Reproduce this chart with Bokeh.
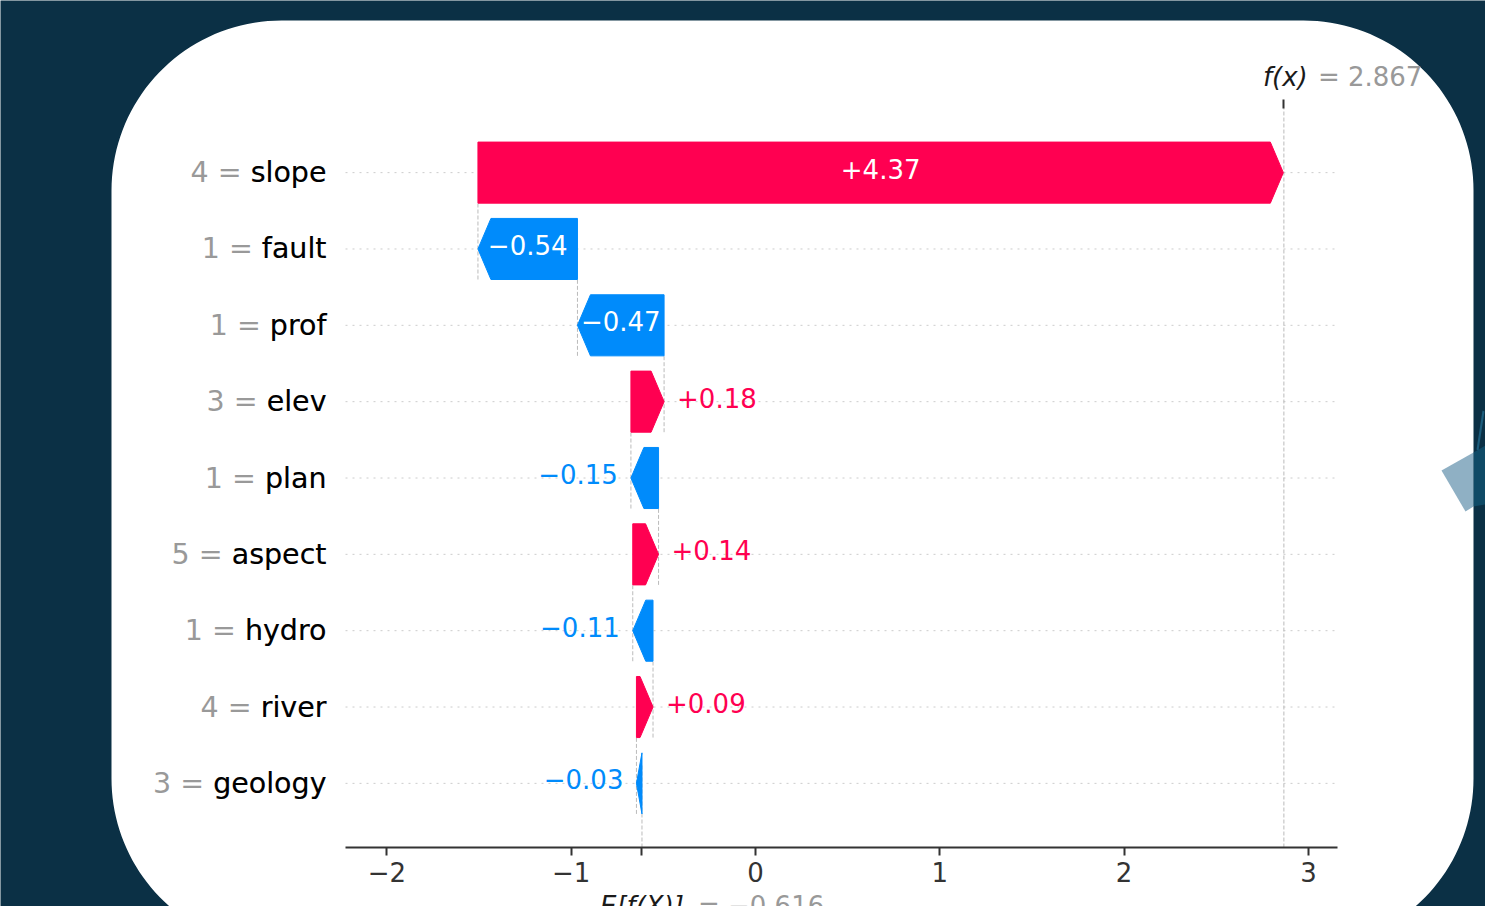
import numpy as np
from bokeh.plotting import figure
from bokeh.models import (Range1d, FixedTicker, LinearAxis, LabelSet, ColumnDataSource)
from bokeh.core.properties import value
from bokeh.embed import file_html
from bokeh.resources import INLINE

# ---- data: SHAP waterfall for one prediction (top row first) ----
features = ["slope", "fault", "prof", "elev", "plan", "aspect", "hydro", "river", "geology"]
feature_values = ["4", "1", "1", "3", "1", "5", "1", "4", "3"]
shap_values = [4.37, -0.54, -0.47, 0.18, -0.15, 0.14, -0.11, 0.09, -0.03]
value_labels = ["+4.37", "\u22120.54", "\u22120.47", "+0.18", "\u22120.15",
                "+0.14", "\u22120.11", "+0.09", "\u22120.03"]
base_value = -0.616
fx_value = 2.867
x_ticks = [-2, -1, 0, 1, 2, 3]
x_tick_labels = ["\u22122", "\u22121", "0", "1", "2", "3"]

# ---- page geometry (pixels) ----
W, H = 1485, 906
AX_L, AX_R, AX_T, AX_B = 345, 1337, 108, 847     # the waterfall's own axes box
PX_PER_X = 184.3
ZERO_PX = 755

RED = "#ff0051"
BLUE = "#008bfb"
FONT_NAME = "DejaVu Sans"
FONT = value(FONT_NAME)

n = len(features)
rows = list(range(n - 1, -1, -1))          # slope on top, geology at bottom

# axes-box limits in data units
ax_x0 = (AX_L - ZERO_PX) / PX_PER_X
ax_x1 = (AX_R - ZERO_PX) / PX_PER_X
ax_y0, ax_y1 = -0.84, n - 1 + 0.84
PX_PER_Y = (AX_B - AX_T) / (ax_y1 - ax_y0)

# the plotting frame spans the whole page; the axes are pinned to the box above
x_range = Range1d(ax_x0 - AX_L / PX_PER_X, ax_x1 + (W - AX_R) / PX_PER_X)
y_range = Range1d(ax_y0 - (H - AX_B) / PX_PER_Y, ax_y1 + AX_T / PX_PER_Y)

p = figure(width=W, height=H, x_range=x_range, y_range=y_range, title=None,
           output_backend="svg", toolbar_location=None,
           min_border=0, min_border_left=0, min_border_right=0,
           min_border_top=0, min_border_bottom=0,
           background_fill_color="white", border_fill_color="#0b3045",
           outline_line_color=None)
p.xgrid.visible = False
p.ygrid.visible = False


def px_x(px):
    return x_range.start + np.asarray(px, float) / PX_PER_X


def px_y(py):
    return y_range.end - np.asarray(py, float) / PX_PER_Y


# ---- slide backdrop: dark page with a rounded white card ----
R_CARD, C_L, C_R, C_T, C_BOT = 170, 111, 1473, 20, 778
a0 = np.arcsin((H + 4 - C_BOT) / R_CARD)
pts = []
for a in np.linspace(a0, 0, 24):
    pts.append((C_R - R_CARD + R_CARD * np.cos(a), C_BOT + R_CARD * np.sin(a)))
for a in np.linspace(0, -np.pi / 2, 40):
    pts.append((C_R - R_CARD + R_CARD * np.cos(a), C_T + R_CARD + R_CARD * np.sin(a)))
for a in np.linspace(-np.pi / 2, -np.pi, 40):
    pts.append((C_L + R_CARD + R_CARD * np.cos(a), C_T + R_CARD + R_CARD * np.sin(a)))
for a in np.linspace(np.pi, np.pi - a0, 24):
    pts.append((C_L + R_CARD + R_CARD * np.cos(a), C_BOT + R_CARD * np.sin(a)))
outer = [(-30, H + 4), (-30, -30), (W + 30, -30), (W + 30, H + 4)]
shapes = [
    (outer + pts, "#0b3045"),
    ([(1441, 470), (1473, 452), (1473, 506), (1465, 511)], "#8fb0c4"),   # tile on the card
    ([(1473, 452), (1490, 442), (1490, 503), (1473, 506)], "#0f4a66"),   # tile past the card
    ([(1482, 410), (1484, 411), (1478, 450), (1476, 449)], "#1c5d7d"),
]
p.patches([list(px_x([q[0] for q in s])) for s, _ in shapes],
          [list(px_y([q[1] for q in s])) for s, _ in shapes],
          fill_color=[c for _, c in shapes], line_color=None)

# ---- cumulative positions, built from the bottom feature upwards ----
starts = [0.0] * n
ends = [0.0] * n
acc = base_value
for i in range(n - 1, -1, -1):
    starts[i] = acc
    acc = acc + shap_values[i]
    ends[i] = acc

# ---- guide lines behind the bars ----
p.segment(x0=ax_x0, x1=ax_x1, y0=rows, y1=rows, line_color="#cccccc",
          line_dash="2 5", line_width=1)
p.segment(x0=[fx_value], x1=[fx_value], y0=[ax_y0], y1=[ax_y1],
          line_color="#bbbbbb", line_dash="4 2", line_width=1)
p.segment(x0=[base_value], x1=[base_value], y0=[ax_y0], y1=[ax_y0 + (ax_y1 - ax_y0) / n],
          line_color="#bbbbbb", line_dash="4 2", line_width=1)
half = 0.4
conn = ColumnDataSource(dict(x=ends[1:], y0=[r - half for r in rows[1:]],
                             y1=[r + 1 - half for r in rows[1:]]))
p.segment(x0="x", x1="x", y0="y0", y1="y1", source=conn,
          line_color="#bbbbbb", line_dash="4 2", line_width=1)

# ---- arrows ----
head = 13 / PX_PER_X
xs, ys, colors = [], [], []
for s, e, r in zip(starts, ends, rows):
    d = e - s
    h = min(head, abs(d))
    neck = e - np.sign(d) * h
    xs.append([s, neck, e, neck, s])
    ys.append([r - half, r - half, r, r + half, r + half])
    colors.append(RED if d > 0 else BLUE)
p.patches(xs, ys, fill_color=colors, line_color=colors, line_width=1)

# ---- value labels ----
text_px = 15.5  # approximate width of one character at 26px
inside, out_pos, out_neg = [], [], []
for i, (s, e, r) in enumerate(zip(starts, ends, rows)):
    bar_px = abs(e - s) * PX_PER_X
    if bar_px > text_px * len(value_labels[i]):
        inside.append(((s + e) / 2, r, value_labels[i]))
    elif shap_values[i] > 0:
        out_pos.append((e, r, value_labels[i]))
    else:
        out_neg.append((e, r, value_labels[i]))


def lab_src(items):
    return ColumnDataSource(dict(x=[t[0] for t in items], y=[t[1] for t in items],
                                 text=[t[2] for t in items]))


common = dict(text_font=FONT, text_font_size="26px", text_baseline="middle", y_offset=-4)
p.text(x="x", y="y", text="text", source=lab_src(inside), text_color="white",
       text_align="center", **common)
p.text(x="x", y="y", text="text", source=lab_src(out_pos), text_color=RED,
       text_align="left", x_offset=13, **common)
p.text(x="x", y="y", text="text", source=lab_src(out_neg), text_color=BLUE,
       text_align="right", x_offset=-13, **common)

# ---- f(x) and E[f(X)] captions ----
cap = dict(text_font=FONT, text_font_size="26px", text_baseline="alphabetic", text_align="left")
p.text(x=[fx_value], y=[ax_y1], text=["f(x)"], x_offset=-21, y_offset=-32,
       text_color="#1a1a1a", text_font_style="italic", **cap)
p.text(x=[fx_value], y=[ax_y1], text=[f"= {fx_value:.3f}"], x_offset=34, y_offset=-32,
       text_color="#999999", **cap)
p.text(x=[base_value], y=[ax_y0], text=["E[f(X)]"], x_offset=-42, y_offset=58,
       text_color="#1a1a1a", text_font_style="italic", **cap)
p.text(x=[base_value], y=[ax_y0], text=[f"= \u2212{abs(base_value):.3f}"], x_offset=56, y_offset=58,
       text_color="#999999", **cap)

# ---- axes pinned to the waterfall box ----
xa = p.xaxis[0]
xa.fixed_location = ax_y0
xa.bounds = (ax_x0, ax_x1)
xa.ticker = FixedTicker(ticks=x_ticks + [base_value])
overrides = {t: lab for t, lab in zip(x_ticks, x_tick_labels)}
overrides[base_value] = ""
xa.major_label_overrides = overrides
xa.major_label_text_font = FONT_NAME
xa.major_label_text_font_size = "26px"
xa.major_label_text_color = "#333333"
xa.axis_line_color = "#333333"
xa.axis_line_width = 2
xa.major_tick_line_color = "#333333"
xa.major_tick_line_width = 2
xa.major_tick_out = 8
xa.major_tick_in = 0
xa.minor_tick_line_color = None
xa.major_label_standoff = 6

ya = p.yaxis[0]
ya.fixed_location = ax_x0
ya.bounds = (ax_y0, ax_y1)
ya.ticker = FixedTicker(ticks=rows)
ya.major_label_overrides = {r: f"{v} = {f}" for r, v, f in zip(rows, feature_values, features)}
ya.major_label_text_font = FONT_NAME
ya.major_label_text_font_size = "28.5px"
ya.major_label_text_color = "#999999"
ya.axis_line_color = None
ya.major_tick_line_color = None
ya.minor_tick_line_color = None
ya.major_tick_out = 0
ya.major_tick_in = 0
ya.major_label_standoff = 19

top = LinearAxis(ticker=FixedTicker(ticks=[fx_value]), fixed_location=ax_y1,
                 bounds=(ax_x0, ax_x1), axis_line_color=None,
                 major_tick_out=9, major_tick_in=0, major_tick_line_color="#333333",
                 major_tick_line_width=2, minor_tick_line_color=None,
                 major_label_text_alpha=0)
p.add_layout(top, "above")

# feature names in black over the grey "value = name" tick labels
names = ColumnDataSource(dict(y=rows, text=features))
p.add_layout(LabelSet(x=ax_x0, y="y", text="text", source=names, x_offset=-19,
                      text_align="right", text_baseline="middle", text_color="black",
                      text_font=FONT, text_font_size="28.5px"))

open("out.html", "w").write(file_html(p, INLINE))
